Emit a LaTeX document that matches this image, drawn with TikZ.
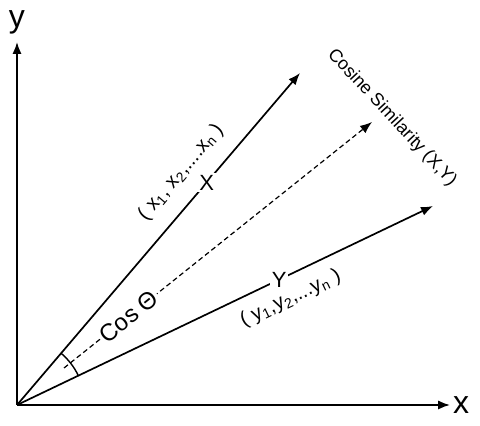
\documentclass[tikz,border=0pt]{standalone}
\usepackage{fontspec}
\setmainfont{Liberation Sans}
\usetikzlibrary{arrows.meta}

\begin{document}
\begin{tikzpicture}[x=0.5pt, y=0.5pt, >={Latex[length=6pt,width=4.6pt]},
	vec/.style = {line width=0.85pt, ->},
	letter/.style = {fill=white, inner sep=1pt, font=\fontsize{11}{13}\selectfont},
	coords/.style = {inner sep=2pt, font=\fontsize{10}{12}\selectfont},
	axis/.style = {font=\fontsize{16}{18}\selectfont}]
	\useasboundingbox (0,0) rectangle (480,426);
	\coordinate (O) at (17,21);
	\coordinate (ytip) at (17,384);
	\coordinate (xtip) at (450,21);
	\coordinate (Xtip) at (300,353);
	\coordinate (Ytip) at (433,220);
	\coordinate (dstart) at (64,58);
	\coordinate (dtip) at (372,304);
	% axes
	\draw[vec] (O) -- (ytip);
	\draw[vec] (O) -- (xtip);
	\node[axis] (ylab) at (17,404) {y};
	\node[axis] (xlab) at (461,21) {x};
	% the two vectors
	\draw[vec] (O) -- (Xtip) node [pos=0.67, letter] (X) {X}
		node [pos=0.65, sloped, above=6pt, coords] {( x\textsubscript{1}, x\textsubscript{2},....x\textsubscript{n} )};
	\draw[vec] (O) -- (Ytip) node [pos=0.63, letter] (Y) {Y}
		node [pos=0.635, sloped, below=4pt, coords] {( y\textsubscript{1},y\textsubscript{2},...y\textsubscript{n} )};
	% angle and similarity
	\draw[line width=0.7pt] (O) ++(25.6:68) arc[start angle=25.6, end angle=49.5, radius=68];
	\draw[vec, line width=0.6pt, dash pattern=on 2.5pt off 1.6pt] (dstart) -- (dtip)
		node [pos=0.21, sloped, fill=white, inner sep=1pt, font=\fontsize{12}{14}\selectfont] (cos) {Cos Θ};
	\node[rotate=-47, font=\fontsize{9}{11}\selectfont] (sim) at (392,308) {Cosine Similarity (X,Y)};
\end{tikzpicture}
\end{document}
